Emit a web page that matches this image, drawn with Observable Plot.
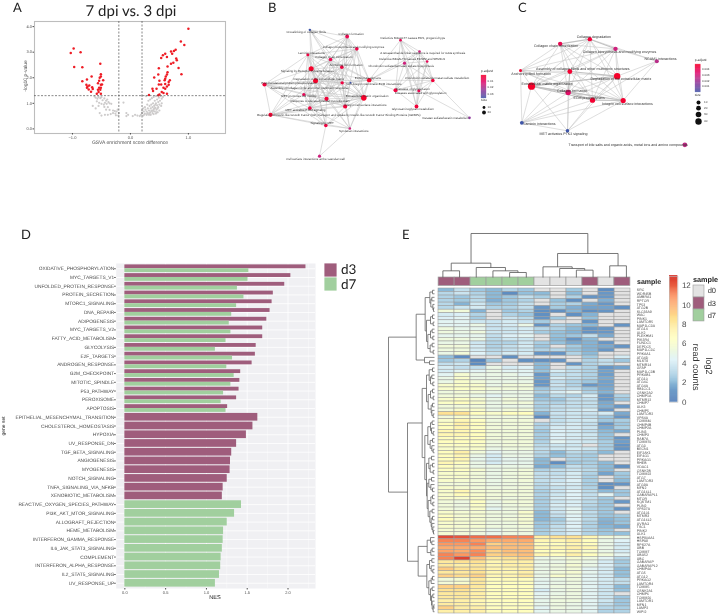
<!DOCTYPE html>
<html><head><meta charset="utf-8">
<script src="https://cdn.jsdelivr.net/npm/d3@7"></script>
<script src="https://cdn.jsdelivr.net/npm/@observablehq/plot@0.6"></script>
<style>
html,body{margin:0;padding:0;background:#fff;width:723px;height:615px;overflow:hidden}
#page{position:relative;width:723px;height:615px;font-family:"Liberation Sans",sans-serif;filter:blur(.3px);text-rendering:geometricPrecision}
#page svg{position:absolute;overflow:visible;background:transparent;text-rendering:geometricPrecision}
.t{position:absolute;white-space:nowrap;line-height:1}
</style></head><body><div id="page"></div>
<script>
// ---------- Panel A: volcano ----------
const volcanoUp = [[-1.03,2.97],[-0.98,3.14],[-0.86,3.0],[-0.97,2.42],[-0.83,2.41],[-0.52,2.55],[-0.51,2.14],[-0.51,2.05],[-0.53,2.0],[-0.67,2.05],[-0.75,1.93],[-0.83,1.86],[-0.47,1.9],[-0.54,1.88],[-0.56,1.79],[-0.49,1.74],[-0.51,1.73],[-0.76,1.73],[-0.74,1.66],[-0.71,1.7],[-0.75,1.61],[-0.72,1.54],[-0.66,1.63],[-0.65,1.56],[-0.68,1.45],[-0.54,1.61],[-0.56,1.53],[-0.52,1.53],[-0.51,1.61],[-0.55,1.44],[-0.58,1.37],[-0.51,1.37],
[1.0,3.92],[0.87,3.42],[0.93,3.28],[0.78,3.1],[0.75,3.05],[0.70,3.03],[0.72,2.94],[0.6,2.94],[0.56,2.88],[0.53,2.77],[0.63,2.81],[0.79,2.75],[0.80,2.68],[0.74,2.59],[0.70,2.55],[0.64,2.44],[0.83,2.38],[0.49,2.37],[0.64,2.22],[0.88,2.14],[0.63,2.13],[0.61,2.05],[0.48,2.13],[0.41,2.01],[0.60,1.96],[0.59,1.9],[0.68,1.9],[0.66,1.83],[0.5,1.88],[0.49,1.74],[0.53,1.74],[0.6,1.76],[0.66,1.73],[0.63,1.66],[0.57,1.61],[0.6,1.57],[0.45,1.57],[0.38,1.57],[0.39,1.48],[0.54,1.44],[0.32,1.33],[0.57,1.4],[0.63,1.37],[0.5,1.35],[0.48,1.32]];
const volcanoNs = [[-0.62,1.27],[-0.6,1.22],[-0.57,1.18],[-0.55,1.25],[-0.52,1.2],[-0.5,1.24],[-0.48,1.12],[-0.45,1.19],[-0.42,1.1],[-0.4,1.15],[-0.38,1.05],[-0.58,1.08],[-0.54,1.02],[-0.5,0.98],[-0.46,0.95],[-0.44,1.02],[-0.41,0.98],[-0.36,1.0],[-0.33,0.98],[-0.55,0.9],[-0.65,0.9],[-0.6,0.8],[-0.45,0.86],[-0.39,0.85],[-0.42,0.75],[-0.36,0.74],[-0.3,0.72],[-0.27,0.7],[-0.24,0.68],[-0.22,0.75],[-0.2,0.62],[-0.26,0.6],[-0.3,0.62],[-0.34,0.58],[-0.39,0.55],[-0.44,0.55],[-0.5,0.52],[-0.53,0.62],[-0.21,0.52],[-0.25,0.53],[-0.12,1.03],[-0.07,0.62],[-0.04,0.55],[-0.07,0.5],[0.04,0.5],[0.08,0.55],[0.12,0.52],[0.16,0.5],
[0.18,0.55],[0.2,0.62],[0.22,0.52],[0.2,0.72],[0.23,0.68],[0.25,0.6],[0.26,0.75],[0.28,0.55],[0.28,0.68],[0.3,0.8],[0.3,0.62],[0.32,0.72],[0.32,0.55],[0.33,0.9],[0.34,0.65],[0.35,0.8],[0.35,0.55],[0.36,0.95],[0.37,0.72],[0.38,0.62],[0.38,0.85],[0.39,1.0],[0.4,0.75],[0.4,0.58],[0.41,0.9],[0.42,1.1],[0.42,0.68],[0.43,0.82],[0.44,1.0],[0.44,0.6],[0.45,0.75],[0.46,0.92],[0.46,1.15],[0.47,0.65],[0.48,1.05],[0.48,0.85],[0.49,1.22],[0.5,0.72],[0.5,0.95],[0.51,1.1],[0.52,1.28],[0.53,0.9],[0.54,1.0],[0.54,1.18],[0.56,1.25],[0.4,1.25],[0.37,1.2],[0.34,1.15],[0.31,1.1],[0.44,1.28],[0.29,0.95],[0.25,0.85],[0.22,0.8],[0.27,1.28],[0.2,1.3],[0.33,0.6],[0.36,0.7],[0.29,0.6],[0.24,0.56],[0.41,0.8],[0.43,0.95],[0.47,0.8],[0.39,0.7],[0.45,0.65]];

// ---------- Panel B: network ----------
const bNodes = [
["Crosslinking of collagen fibrils",283,88,272,94,1.2,.03],
["Collagen formation",395,108,407,101,1.9,.005],
["Defective B4GALT7 causes EDS, progeroid type",555,119,592,113,1.3,.006],
["Collagen biosynthesis and modifying enzymes",424,145,414,139,1.8,.004],
["Laminin interactions",277,163,288,157,1.5,.003],
["Collagen chain trimerization",345,177,355,171,1.8,.005],
["A tetrasaccharide linker sequence is required for GAG synthesis",612,153,622,159,1.3,.012],
["Defective B3GALT6 causes EDSP2 and SEMDJ1",635,183,590,177,1.3,.006],
["Chondroitin sulfate/dermatan sulfate biosynthesis",567,188,557,196,1.6,.012],
["Anchoring fibril formation",379,200,392,194,1.8,.003],
["Signaling by Receptor Tyrosine Kinases",287,205,275,212,2.5,0],
["Degradation of the extracellular matrix",300,241,310,235,2.5,0],
["Post-translational protein phosphorylation",147,252,220,247,2.1,.002],
["Assembly of collagen fibrils and other multimeric structures",380,247,282,263,1.7,.003],
["Non-integrin membrane-ECM interactions",405,247,475,250,1.0,.03],
["ECM proteoglycans",461,239,457,232,2.2,0],
["Chondroitin sulfate/dermatan sulfate metabolism",652,240,665,233,1.8,.002],
["Diseases of glycosylation",540,269,592,265,2.0,.003],
["Diseases associated with glycosylation",610,271,615,278,1.5,.005],
["MET promotes cell motility",265,282,250,288,1.6,.006],
["Extracellular matrix organization",445,292,455,286,2.8,0],
["Response to elevated platelet cytosolic Ca2+",333,295,315,302,2.1,.002],
["MET activates PTK2 signaling",283,323,270,329,1.8,.003],
["Integrin cell surface interactions",389,318,450,314,2.1,.002],
["Glycosaminoglycan metabolism",603,318,592,325,1.9,.002],
["Regulation of Insulin-like Growth Factor (IGF) transport and uptake by Insulin-like Growth Factor Binding Proteins (IGFBPs)",165,343,370,343,2.1,.001],
["Signaling by MET",331,375,320,369,1.8,.003],
["Syndecan interactions",403,384,415,392,1.3,.012],
["Keratan sulfate/keratin metabolism",762,352,690,353,1.3,.02],
["Cell surface interactions at the vascular wall",312,467,300,475,1.6,.012]];
const bAdj = {0:[1,3,5,9,10,11,13],1:[3,4,5,9,10,11,13,15,20,21,23],3:[4,5,9,10,11,13,20,21,23,15],4:[5,9,10,11,13,19,21,22,23,25,12],5:[9,10,11,13,19,20,21,22,23,15],9:[10,11,13,19,20,21,22,23,15],10:[11,12,13,19,20,21,22,23,25,26,15],11:[12,13,14,19,20,21,22,23,25,26,27,15],12:[13,19,21,22,25,26,20],13:[14,19,20,21,22,23,15,27],14:[20,21,15,23],19:[20,21,22,23,25,26],20:[21,22,23,25,26,27,15],21:[22,23,25,26,27],22:[23,25,26,27],23:[25,26,27,15],25:[26,27],26:[27,29],27:[29,15],15:[2,8,17,6,16],2:[6,7,8,16,17,18,24],6:[7,8,16,17,18,24],7:[8,16,17,18,24],8:[16,17,18,24],16:[17,18,24,28],17:[18,24],18:[24,28]};

// ---------- Panel C: network ----------
const cNodes = [
["Collagen degradation",313,116,325,110,2.2,.002],
["Collagen chain trimerization",224,130,212,137,2.2,.005],
["Collagen biosynthesis and modifying enzymes",390,145,402,153,2.2,.012],
["NCAM1 interactions",514,182,525,174,2.0,.015],
["Anchoring fibril formation",105,210,137,219,1.5,.001],
["Assembly of collagen fibrils and other multimeric structures",253,213,292,205,2.4,.001],
["Degradation of the extracellular matrix",395,227,406,235,3.2,0],
["Extracellular matrix organization",138,257,185,249,3.6,0],
["Collagen formation",248,276,260,270,2.7,.008],
["ECM proteoglycans",321,299,311,292,2.6,.001],
["Integrin cell surface interactions",413,300,426,309,2.6,.001],
["Laminin interactions",109,367,162,369,1.9,.03],
["MET activates PTK2 signaling",246,391,234,400,1.8,.03],
["Transport of bile salts and organic acids, metal ions and amine compounds",598,433,428,434,2.4,.014]];
const cAdj = {0:[1,2,4,5,6,7,8,9,10],1:[2,4,5,6,7,8,9,10],2:[3,4,5,6,7,8,9,10],3:[0,6,9,10],4:[5,6,7,8,9,10,11],5:[6,7,8,9,10,11,12],6:[7,8,9,10,11,12],7:[8,9,10,11,12],8:[9,10,11,12],9:[10,11,12],10:[11,12],11:[12]};
const cHeavy = [[7,6],[7,8],[5,6],[7,9],[8,9],[7,10],[0,1],[0,2],[9,10],[8,5]];

// ---------- Panel D: bars ----------
const bothSets = ["OXIDATIVE_PHOSPHORYLATION","MYC_TARGETS_V1","UNFOLDED_PROTEIN_RESPONSE","PROTEIN_SECRETION","MTORC1_SIGNALING","DNA_REPAIR","ADIPOGENESIS","MYC_TARGETS_V2","FATTY_ACID_METABOLISM","GLYCOLYSIS","E2F_TARGETS","ANDROGEN_RESPONSE","G2M_CHECKPOINT","MITOTIC_SPINDLE","P53_PATHWAY","PEROXISOME","APOPTOSIS"];
const bothD3 = [2.22,2.035,1.96,1.82,1.805,1.78,1.74,1.69,1.69,1.61,1.60,1.56,1.42,1.41,1.40,1.37,1.26];
const bothD7 = [1.52,1.51,1.38,1.46,1.37,1.31,1.28,1.30,1.24,1.11,1.32,1.25,1.34,1.30,1.21,1.18,1.24];
const onlyD3Sets = ["EPITHELIAL_MESENCHYMAL_TRANSITION","CHOLESTEROL_HOMEOSTASIS","HYPOXIA","UV_RESPONSE_DN","TGF_BETA_SIGNALING","ANGIOGENESIS","MYOGENESIS","NOTCH_SIGNALING","TNFA_SIGNALING_VIA_NFKB","XENOBIOTIC_METABOLISM"];
const onlyD3 = [1.63,1.57,1.49,1.37,1.31,1.295,1.29,1.255,1.205,1.195];
const onlyD7Sets = ["REACTIVE_OXYGEN_SPECIES_PATHWAY","PI3K_AKT_MTOR_SIGNALING","ALLOGRAFT_REJECTION","HEME_METABOLISM","INTERFERON_GAMMA_RESPONSE","IL6_JAK_STAT3_SIGNALING","COMPLEMENT","INTERFERON_ALPHA_RESPONSE","IL2_STAT5_SIGNALING","UV_RESPONSE_UP"];
const onlyD7 = [1.43,1.345,1.255,1.21,1.205,1.195,1.18,1.175,1.16,1.11];

// ---------- Panel E: heatmap ----------
const _ = null;
const sampleRow = ["d3","d3","d7","d7","d7","d7","d0","d0","d0","d3","d0","d3"];
const genes = ["SRC","WDR45B","AMBRA1","RPTOR","TP53","ATG2B","SLC38A9","WAC","PINK1","LAMTOR5","MAP1LC3A","ATG14","ULK2","PLEKHM1","PIK3R4","FUNDC1","DEPDC5","MAP1LC3C","PRKAA1","ATG4D","MLST8","MTMR14","GFAP","MAP1LC3B","PRKAB1","ATG10","ATG4C","ATG4A","RB1CC1","CSNK2A2","CHMP1A","MTMR12","CHMP7","ULK3","CHMP5","LAMTOR2","VPS4A","TOMM40","CHMP4B","CHMP2A","PLIN3","CHMP3","RAB7A","TOMM70","ATG3","BECN1","EIF2AK1","EIF4G1","PRKAG1","RHEB","VDAC1","CSNK2B","TOMM22","ATG7","LAMTOR3","ATG9A","MFN2","ATG16L1","GABARAPL1","MTOR","SQSTM1","PLIN2","VPS37A","ATG101","MTMR3","ATG16L2","UVRAG","TSC1","PINK2","ULK1","HSP90AA1","HSPA8","RPS27A","UBB","TOMM7","UBA52","UBC","GABARAP","GABARAPL2","CHMP4A","ATG5","ATG12","PRKAG2","LAMTOR4","TOMM5","CSNK2A1","CHMP6","TOMM20","LAMTOR1","MFN1","LAMP2","WIPI2"];
const expression = [
[2,3.5,2.5,2,3,2.5,_,_,2.6,_,.7,_],[3.2,3.7,3,2,.7,2.2,2,_,2,_,1,_],[3,2.5,3.2,2,2.5,3.5,2.8,_,3,.9,1,_],[3,2.6,3.3,1.7,2.5,3,_,2.3,.8,_,1.7,_],[3.2,1.8,3.8,2.5,2.7,3.5,_,2.8,3,1.5,1,_],[3.2,3.8,4,3,3,3.5,1,2.7,1.7,1.3,1.3,.8],[5.5,5.5,1.8,_,2.5,3,.8,.8,1.8,.8,.9,_],[4,4.2,3,_,3,2.5,.8,_,.8,1.8,_,_],[4.2,4.5,2.7,_,3.7,3.3,.9,2.6,_,2.2,_,_],[4.5,4.5,3.8,3.7,4,3.7,2.7,_,_,.9,_,_],
[4.5,4.5,5,3.7,4,5,.9,3,2.4,2,_,.9],[5.3,4.8,4.7,3.7,3.8,4,3.2,3,2,.9,1,_],[5.3,5,5.3,3.8,3.8,4,2.7,2.3,1.8,.9,1,_],[4.7,4.7,4.7,3.5,4.2,4.5,_,2.3,2.5,3.5,1.5,_],[5.3,5.3,5,3.3,3.8,3.8,_,2,.9,2,_,_],[5,5,3.8,3,3,3.8,2.8,2.3,1.5,1.8,1,_],[5.5,5.5,4,3,3.5,4,2.5,_,2.7,1.8,1.5,.9],[5.3,5.3,4,3.2,3.5,3.8,3,3.2,2.4,1.8,1,_],[5,5.5,4.3,3.5,4,4,.9,.9,3,2,_,_],[2.2,.7,_,_,.8,_,_,_,_,2.6,_,4],
[2.5,3,.5,2.5,_,.8,.8,.9,_,3,3.5,2.5],[3.5,3.8,.7,_,_,_,2,_,.9,3,3.5,_],[4,3.5,3.5,5,4,4.3,2,_,3.5,3,1,1.3],[4,4.5,4.5,5,4.5,4.5,2.3,4,3.5,3,1.3,_],[4.5,5.8,5,5,5,4.5,1,3.5,3.5,3,1.2,_],[5,6,5,5,5,5,1.3,4,3.5,3,1.5,_],[5,6,5.5,5,5,5,1,3.5,3,2.5,1.3,_],[6,6.2,6,5,5.5,5.5,1,3.7,3,1,1.3,_],[6,6.2,6,5.5,5.5,5.5,2.5,3.5,3.5,2.5,1.5,_],[5.3,5.6,5.5,5,5,5,3,4,4.5,3,1.8,_],
[5.5,5.5,5,4.5,5,5,2,3.3,3,4,1,3],[6,6.2,5.8,5,5.5,5,2.5,2.5,3.5,3.5,1,2.5],[6.2,6.5,6,5,5.5,5.5,3,3,3.5,3.5,1.5,_],[5.5,5.5,5.5,5,5,5,2.8,3.5,3.5,3.5,1.7,1],[5.5,6,6,5,5.5,5.5,3,3.5,3.8,4,1,_],[8.5,8.5,6.5,6,6.5,6.5,1.8,3.7,3.8,3.7,4,1.5],[5.5,6,5.5,5.3,5.3,5.3,.7,3.5,3.8,3.5,2.5,1],[6,7,6.3,5.3,5.5,5.5,_,3.5,3.8,3.8,2.5,2.8],[6.5,7.5,6.5,5.5,5.5,5.5,3,3.7,4,3.5,1,2.5],[6.5,7.2,6.3,5.5,5.5,5.5,3,4,4,3.7,1.5,2.8],
[7,7,6.5,5.5,5.5,5.5,2.5,4.2,4,3.5,2,1.5],[7,7,6.5,5.5,5.5,5.5,2.8,4.2,4,3.8,2.3,_],[6.5,6.5,6.5,5.5,5.5,5.5,2.7,4.2,4,3.8,2.3,.9],[6.5,6.5,6.3,5.3,5.5,5.5,3,4.5,4,3.8,2.8,1.2],[6.3,6.3,6.2,5.2,5.5,5.5,3.3,3.8,3.8,_,2.8,.9],[6,6,6,5,5.3,5.3,3.5,3.8,4,3.8,2.8,.9],[6.5,7.5,5.5,4.5,5,5,3.2,2,3.3,3,2,_],[6.5,7,5,4,5,5,3,2.2,3,2.7,_,_],[6.5,7,4.8,4,4.7,4.8,2,_,3,2.8,_,_],[7,6.5,5,4,4.7,4.8,2,.7,2.6,2.8,2,_],
[6.5,6,5,5,5,5,1.5,2,3.5,3,2,.8],[6.3,6.3,5.8,5,5.3,5.5,3,3.5,3.7,3.3,2,_],[6,6,5.5,5,5.3,5.5,3.5,3.5,4,3,1.3,2.6],[6,6,5.5,5,5.3,5.5,3.5,3.7,4,2.8,_,2.5],[6,5.8,5.5,5,5.3,5.5,3.5,3.7,4.2,2.8,_,2],[5.5,5.5,5.5,5,5.2,5.3,3.3,4,4,2.8,.8,.9],[6,5.8,5.5,5.2,5.3,5.5,3.2,3.6,3.9,3,.8,_],[6,7,5.8,5.5,5.5,5.5,2.8,3.7,4.3,3.3,2,2.5],[6,6.7,6,5.5,5.5,5.5,3,3.8,4.3,3.5,4.5,2.5],[6,6,6,5.5,5.3,5.5,2.8,4,4.3,3.5,2.6,_],
[5.5,5.2,6.3,5,5.5,5.5,2.8,3.8,4.1,3.3,2.5,1],[5.5,5.2,6.2,5,5.3,5.5,2.8,4.1,4.2,3.2,2.5,_],[5.5,5.2,6,4.6,5.2,5.2,2.8,3.9,4.5,3,2.6,.9],[6,5.7,5.8,5.3,5.3,6,2,3.7,4.6,3.4,2.5,_],[6.3,5.8,5.8,5.3,5.3,5.8,2,3.5,4.4,3.3,2.4,2.6],[6.5,5.8,5.8,5.3,5.5,5.8,1.9,2.7,4.4,3.3,1.9,2.3],[6,5.8,5.8,5.2,5.3,5.8,2.5,3.1,4.2,3,1.7,2.4],[6,5.8,5.8,5.3,5.3,5.5,2.5,3.5,4.3,3,1.9,1.5],[5.8,5.6,5.5,4.8,5.3,5.4,2.8,3.6,4.1,3.1,2.4,_],[5.7,5.5,5.3,4.8,5.2,5.2,2.8,3.5,4,3,2.5,2.2],
[12.3,12,11.5,11.5,11,11,7.5,8.5,8.5,7,5.5,5],[11,11,10.5,10,10,10,7,7,7.5,6.5,5,4.3],[10.5,10.5,11,9,9.5,9.5,6.5,6.5,7,6.5,5,4],[10,10,10,9.5,9.5,9.5,7,7,7.5,7,5,4],[10.2,10,10.8,9,9.5,9.5,6.5,6.5,7,6,5,4],[11,10.5,11,9,9.3,9.5,7,6.5,7.5,6.5,5.5,4.5],[11,12.5,9.5,8,8.5,9,5,5.3,5.8,5.3,4.5,3.2],[8,8.5,8.5,7,7.5,7.5,5,5,5.5,5,4,2.6],[8,7.5,8,7,7.5,7.5,5,5.3,5.8,5,4.2,2.9],[9.2,8.5,8.2,7.2,7.2,7.5,5,5.2,5.5,4.5,4,2],
[8,8,8.5,7,7,7.5,5,5.5,5.8,4.7,4,2.3],[9,8.7,9,7,7.2,8,5,6,5.5,4.5,4,2.2],[5.5,5.8,8,6.5,6.7,6.5,4.7,5,5.3,4.5,4,3.5],[5.6,6,8,6.5,6.5,6.5,4.6,5,5.2,4.5,4,3.5],[9,9,8,6.5,6.5,6.5,4.7,5.2,5.2,4.5,3.7,2],[8.5,8.5,7.5,6.5,6.5,6.5,4,5,5.3,4.5,3.8,2.3],[8,8,7.5,6.5,6.5,6.5,4.5,5,5.2,4.5,3.8,_],[8,8,7.5,6.5,6.5,6.5,4.7,5.2,5.2,4.5,3.8,2.5],[7.5,7.5,7,6.5,6.5,6.5,4.8,5.3,5.3,4.5,3.8,2.5],[7.8,7.6,7,6.3,6.3,6.3,4.8,5.2,5,4.5,3.5,2.5],
[9,7.7,7.5,6.5,6.5,6.5,4.5,5.2,5,4.5,3.2,2.8],[7.5,7.5,7.5,6.5,6.5,6.5,4.6,5,5,4.5,3,3]];
const colTree = [132,[43,[20,0,1],[30,2,[20,3,[15,4,5]]]],[72,[32,6,[27,7,[22,8,9]]],[35,10,11]]];
const rowTree = [138,
 [55,[28,[14,[6,0,1],[11,[8,2,3],[5,4,[3,5,6]]]],[24,[12,[6,7,8],[4,9,10]],[20,[12,[7,11,12],[5,13,14]],[13,[7,15,16],[4,17,18]]]]],[30,19,[15,20,21]]],
 [81,
  [37,[24,[16,[6,22,23],[12,[8,24,25],[5,26,27]]],[19,[12,[6,28,29],[4,30,31]],[10,[6,32,33],[8,34,[4,35,36]]]]],
      [29,[20,[12,[7,37,38],[9,39,[4,40,41]]],[13,[6,42,43],[8,44,[4,45,46]]]],
          [24,[17,[9,47,48],[13,[6,49,50],[4,51,52]]],
              [22,[17,[9,53,54],[11,55,[6,56,57]]],[19,[11,[6,58,59],[5,60,61]],[14,[7,62,63],[10,[6,64,65],[8,66,[5,67,[3,68,69]]]]]]]]]],
  [49,[22,[12,70,[8,71,72]],[11,[7,73,74],75]],[23,[15,[8,76,77],[10,78,[5,79,80]]],[17,[10,[6,81,82],83],[12,[7,84,85],[9,[5,86,87],[7,88,[4,[2,89,90],91]]]]]]]]];

const sampleColors = {d0:"#e3e3e3",d3:"#9f5d7c",d7:"#a1cf9e"};
const heatStops = ["#4575B4","#91BFDB","#E0F3F8","#FFFFBF","#FEE090","#FC8D59","#D73027"];
const heatMax = 12.93;
const heatDomain = heatStops.map((_c,i)=>i*heatMax/6);
const pStops = ["#f6002a","#dc0f74","#8f3a9c","#3f55a8"];

// ---------- helpers ----------
const page = document.getElementById("page");
function place(el,l,t){el.style.left=l+"px";el.style.top=t+"px";page.appendChild(el);}
function txt(s,x,y,size,o={}){
  const d=document.createElement("div");d.className="t";d.textContent=s;
  d.style.fontSize=size+"px";d.style.color=o.color||"#222";
  d.style.fontFamily=o.font||'"Liberation Sans",sans-serif';
  if(o.weight)d.style.fontWeight=o.weight;
  const ax=o.anchor==="middle"?"-50%":o.anchor==="end"?"-100%":"0";
  d.style.transform=`translate(${ax},-50%)`+(o.rot?` rotate(${o.rot}deg)`:"");
  d.style.transformOrigin=o.rot?"center":"";
  place(d,x,y);
}
const base={style:{color:"#4d4d4d",background:"transparent",fontFamily:'"Liberation Sans",sans-serif'}};
function walk(t,out){
  if(typeof t==="number")return {p:t+.5,h:0};
  const [h,a,b]=t,A=walk(a,out),B=walk(b,out);
  out.push({p1:A.p,h1:A.h,p2:A.p,h2:h},{p1:B.p,h1:B.h,p2:B.p,h2:h},{p1:A.p,h1:h,p2:B.p,h2:h});
  return {p:(A.p+B.p)/2,h};
}

// ---------- A ----------
place(Plot.plot({...base,width:240,height:150,marginLeft:34,marginRight:15,marginTop:21,marginBottom:17,
  x:{domain:[-1.655,1.64]},y:{domain:[-0.18,4.2]},
  marks:[
    Plot.frame({stroke:"#bdbdbd",strokeWidth:1.1}),
    Plot.dot(volcanoNs,{x:"0",y:"1",r:1.1,fill:"#cdcbcb"}),
    Plot.dot(volcanoUp,{x:"0",y:"1",r:1.25,fill:"#ee1c25"}),
    Plot.ruleY([1.3],{stroke:"#555",strokeWidth:.7,strokeDasharray:"2,1.5"}),
    Plot.ruleX([-0.2,0.2],{stroke:"#555",strokeWidth:.7,strokeDasharray:"2,1.5"}),
    Plot.axisX({ticks:[-1,0,1],tickSize:1.5,tickPadding:1,fontSize:4,label:null}),
    Plot.axisY({ticks:[0,1,2,3,4],tickSize:1.5,tickPadding:1,fontSize:4,label:null})
  ]}),0,0);
txt("GSVA enrichment score difference",130,143,5,{anchor:"middle",color:"#555"});
txt("-log10 p-value",26,76,5,{anchor:"middle",rot:-90,color:"#555"});
txt("7 dpi vs. 3 dpi",131,11,15,{anchor:"middle",font:"Lato"});
txt("A",13,7,13,{font:"Lato"});txt("B",268,7,13,{font:"Lato"});txt("C",518,7,13,{font:"Lato"});
txt("D",21,234,13,{font:"Lato"});txt("E",402,234,13,{font:"Lato"});

// ---------- networks ----------
function edgeRows(nodes,adj,heavy=[]){
  const r=[];for(const k in adj)for(const j of adj[k]){
    const a=nodes[+k],b=nodes[j];
    const hv=heavy.some(([p,q])=>(p==+k&&q==j)||(q==+k&&p==j));
    r.push({x1:a[1],y1:a[2],x2:b[1],y2:b[2],w:hv?1.1:.55});}
  return r;
}
function network(nodes,adj,heavy,left,w,h,fs,pmax){
  place(Plot.plot({...base,width:w,height:h,margin:0,
    x:{domain:[0,w*3],axis:null},y:{domain:[0,h*3],axis:null,reverse:true},
    r:{type:"identity"},
    color:{type:"linear",domain:pStops.map((_c,i)=>i*pmax/3),range:pStops,interpolate:"lab"},
    marks:[
      Plot.link(edgeRows(nodes,adj,heavy),{x1:"x1",y1:"y1",x2:"x2",y2:"y2",strokeWidth:"w",stroke:"#c2c2c2"}),
      Plot.dot(nodes,{x:"1",y:"2",r:"5",fill:"6"}),
      Plot.text(nodes,{x:"3",y:"4",text:"0",fontSize:fs,fill:"#333"})
    ]}),left,0);
}
network(bNodes,bAdj,[],215,270,170,3,.03);
network(cNodes,cAdj,cHeavy,485,238,170,3.6,.03);

function pBar(x,y,w,h,title){
  const steps=d3.range(0,1,.02);
  place(Plot.plot({...base,width:w,height:h,margin:0,x:{domain:[0,1],axis:null},y:{domain:[0,1],axis:null},
    color:{type:"linear",domain:pStops.map((_c,i)=>i/3),range:pStops,interpolate:"lab"},
    marks:[Plot.rect(steps,{x1:0,x2:1,y1:d=>1-d-.02,y2:d=>1-d,fill:d=>d,inset:-.1})]}),x,y);
  txt(title,x,y-3,3.4,{color:"#333"});
}
pBar(481,75,5,23,"p.adjust");
[["0.01",81],["0.02",87],["0.03",94]].forEach(([s,y])=>txt(s,487.5,y,3,{color:"#444"}));
txt("size",481,101,3.4,{color:"#333"});
pBar(694.7,63.7,5.3,28,"p.adjust");
[["0.004",69],["0.003",75],["0.002",80.7],["0.001",86.3]].forEach(([s,y])=>txt(s,702,y,3,{color:"#444"}));
txt("size",694.7,96,3.4,{color:"#333"});
const bSizes=[[1.4,4.5,107,"10"],[1.9,4.5,112,"20"]];
const cSizes=[[2,7,102,"10"],[2.4,7,107.7,"20"],[2.8,7,114,"30"],[3.2,7,121,"40"]];
function sizeDots(left,rows,tx,wd){
  place(Plot.plot({...base,width:wd,height:130,margin:0,x:{domain:[0,wd],axis:null},y:{domain:[0,130],axis:null,reverse:true},r:{type:"identity"},
    marks:[Plot.dot(rows,{x:"1",y:"2",r:"0",fill:"#111"})]}),left,0);
  rows.forEach(r=>txt(r[3],left+tx,r[2],3,{color:"#444"}));
}
sizeDots(479,bSizes,8.5,10);
sizeDots(691,cSizes,13,14);

// ---------- D ----------
const setNames=[...bothSets,...onlyD3Sets,...onlyD7Sets];
const barRows=[
  ...bothSets.flatMap((s,i)=>[{i,v:bothD3[i],g:"d3",a:-.44,b:0},{i,v:bothD7[i],g:"d7",a:0,b:.44}]),
  ...onlyD3Sets.map((s,k)=>({i:17+k,v:onlyD3[k],g:"d3",a:-.44,b:.44})),
  ...onlyD7Sets.map((s,k)=>({i:27+k,v:onlyD7[k],g:"d7",a:-.44,b:.44}))];
place(Plot.plot({...base,width:315,height:338,marginLeft:115.7,marginRight:0,marginTop:0,marginBottom:13,
  x:{domain:[-.106,2.337]},y:{domain:[-.6,36.6],range:[0,325]},
  color:{domain:["d3","d7"],range:[sampleColors.d3,sampleColors.d7]},
  marks:[
    Plot.frame({fill:"#f0f0f3",stroke:null}),
    Plot.ruleX([.25,.75,1.25,1.75,2.25],{stroke:"#fff",strokeWidth:.4}),
    Plot.ruleX([0,.5,1,1.5,2],{stroke:"#fff",strokeWidth:.8}),
    Plot.ruleY(d3.range(37),{stroke:"#fff",strokeWidth:.8}),
    Plot.rect(barRows,{x1:0,x2:"v",y1:d=>d.i+d.a,y2:d=>d.i+d.b,fill:"g"}),
    Plot.axisX({ticks:[0,.5,1,1.5,2],tickFormat:d3.format(".1f"),tickSize:1.5,tickPadding:1,fontSize:4,label:null}),
    Plot.axisY({ticks:d3.range(37),tickFormat:i=>setNames[i],tickSize:1.5,tickPadding:.5,fontSize:4.8,label:null})
  ]}),0,262.8);
txt("NES",215,599,5.6,{anchor:"middle"});
txt("gene set",4,426,5,{anchor:"middle",rot:-90});
const dLegend=["d3","d7"];
place(Plot.plot({...base,width:13.5,height:28,margin:0,x:{type:"band",domain:[0],padding:0,axis:null},y:{type:"band",domain:dLegend,padding:0,axis:null},
  color:{domain:dLegend,range:[sampleColors.d3,sampleColors.d7]},
  marks:[Plot.cell(dLegend,{x:()=>0,y:d=>d,fill:d=>d,inset:.4})]}),324,263);
txt("d3",341,270.3,13.5,{font:"Lato"});txt("d7",341,285,13.5,{font:"Lato"});

// ---------- E ----------
const heatColor={type:"linear",domain:heatDomain,range:heatStops,interpolate:"rgb"};
const cells=expression.flatMap((r,i)=>r.map((v,j)=>({i,j,v})));
const nRows=expression.length;
const cols=d3.range(12);
place(Plot.plot({...base,width:289,height:325,marginLeft:0,marginRight:88.7,marginTop:0,marginBottom:0,
  x:{type:"band",domain:cols,padding:0,axis:null},
  y:{type:"band",domain:d3.range(nRows),padding:0},
  color:heatColor,
  marks:[
    Plot.cell(cells.filter(c=>c.v===null),{x:"j",y:"i",fill:"#e2e2e2",stroke:"#9c9c9c",strokeWidth:.55}),
    Plot.cell(cells.filter(c=>c.v!==null),{x:"j",y:"i",fill:"v",stroke:"#9c9c9c",strokeWidth:.55}),
    Plot.axisY({anchor:"right",tickFormat:i=>genes[i],tickSize:0,tickPadding:2,fontSize:3.5,label:null})
  ]}),434,288.3);
place(Plot.plot({...base,width:200.3,height:8.4,margin:0,
  x:{type:"band",domain:cols,padding:0,axis:null},y:{domain:[0,1],axis:null},
  color:{domain:["d0","d3","d7"],range:[sampleColors.d0,sampleColors.d3,sampleColors.d7]},
  marks:[Plot.cell(sampleRow,{x:(d,j)=>j,fill:d=>d,stroke:"#9c9c9c",strokeWidth:.7})]}),434,277.3);
txt("sample",637,281.7,7,{weight:"bold"});
const cSegs=[];walk(colTree,cSegs);
place(Plot.plot({...base,width:200.3,height:45,margin:0,x:{domain:[0,12],axis:null},y:{domain:[0,135],axis:null},
  marks:[Plot.link(cSegs,{x1:"p1",y1:"h1",x2:"p2",y2:"h2",stroke:"#555",strokeWidth:.8})]}),434,232);
const rSegs=[];walk(rowTree,rSegs);
place(Plot.plot({...base,width:46,height:325,margin:0,x:{domain:[138,0],axis:null},y:{domain:[0,nRows],axis:null,reverse:true},
  marks:[Plot.link(rSegs,{x1:"h1",y1:"p1",x2:"h2",y2:"p2",stroke:"#666",strokeWidth:.8})]}),388,288.3);

// colour bar
const barSteps=d3.range(0,heatMax,.1);
place(Plot.plot({...base,width:40,height:125.7,marginLeft:0,marginRight:31.6,marginTop:0,marginBottom:0,
  x:{domain:[0,1],axis:null},y:{domain:[0,heatMax]},color:heatColor,
  marks:[Plot.rect(barSteps,{x1:0,x2:1,y1:d=>d,y2:d=>d+.12,fill:d=>d}),
    Plot.frame({stroke:"#bbb",strokeWidth:.6}),
    Plot.axisY({anchor:"right",ticks:[0,2,4,6,8,10,12],tickSize:0,tickPadding:4,fontSize:8,label:null})]}),669.3,276);
txt("read counts",695,367,9,{anchor:"middle",rot:90,color:"#333"});
txt("log2",708,366,9,{anchor:"middle",rot:90,color:"#333"});
// sample legend
const legendSamples=["d0","d3","d7"];
place(Plot.plot({...base,width:11.7,height:36.7,margin:0,x:{type:"band",domain:[0],padding:0,axis:null},y:{type:"band",domain:legendSamples,padding:0,axis:null},
  color:{domain:legendSamples,range:legendSamples.map(s=>sampleColors[s])},
  marks:[Plot.cell(legendSamples,{x:()=>0,y:d=>d,fill:d=>d,stroke:"#9c9c9c",strokeWidth:.6})]}),693.3,285);
txt("sample",693,280,7.3,{weight:"bold"});
txt("d0",707.7,291.2,7.5,{color:"#333"});txt("d3",707.7,303.7,7.5,{color:"#333"});txt("d7",707.7,316,7.5,{color:"#333"});
</script></body></html>
